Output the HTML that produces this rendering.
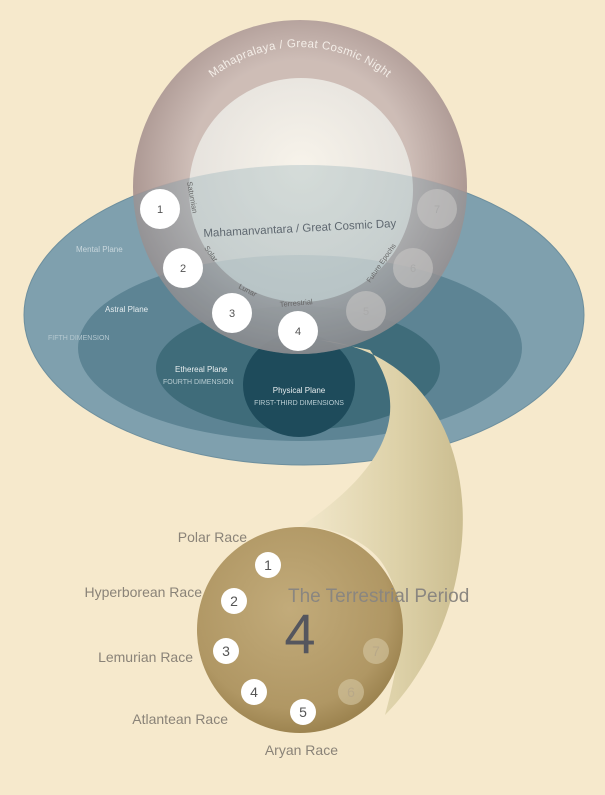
<!DOCTYPE html>
<html><head><style>
html,body{margin:0;padding:0;background:#f6e9cc;}
svg{display:block;font-family:"Liberation Sans",sans-serif;}
</style></head><body>
<svg width="605" height="795" viewBox="0 0 605 795" xmlns="http://www.w3.org/2000/svg">
<defs>
<radialGradient id="sph" cx="50%" cy="45%" r="55%">
<stop offset="0.6" stop-color="#c9b8b4"/><stop offset="1" stop-color="#9a8482"/>
</radialGradient>
<radialGradient id="inner" cx="50%" cy="40%" r="60%">
<stop offset="0" stop-color="#fbf8ef"/><stop offset="1" stop-color="#e4e2de"/>
</radialGradient>
<radialGradient id="bot" cx="45%" cy="40%" r="60%">
<stop offset="0" stop-color="#c2ab7a"/><stop offset="0.8" stop-color="#b09764"/><stop offset="1" stop-color="#9d8450"/>
</radialGradient>
<linearGradient id="rib" x1="0" y1="0" x2="1" y2="0">
<stop offset="0" stop-color="#f2e8cc"/><stop offset="0.6" stop-color="#ddd1a8"/><stop offset="1" stop-color="#cbbd90"/>
</linearGradient>
<path id="arcTop" d="M 160 187 A 140 140 0 0 1 440 187"/>
</defs>
<rect width="605" height="795" fill="#f6e9cc"/>
<!-- planes -->
<ellipse cx="304" cy="315" rx="280" ry="150" fill="#7fa0ae" stroke="#6d8f9e"/>
<ellipse cx="300" cy="348" rx="222" ry="93" fill="#5d8494"/>
<ellipse cx="298" cy="368" rx="142" ry="62" fill="#3f6c7a"/>
<ellipse cx="299" cy="385" rx="56" ry="52" fill="#1e4b5b"/>
<!-- ribbon -->
<path d="M 320 340 C 420 350 470 440 462 540 C 455 620 420 680 385 715 C 400 660 410 600 380 560 C 360 535 320 525 300 527 C 370 480 420 420 370 350 Z" fill="url(#rib)"/>
<!-- sphere -->
<circle cx="300" cy="187" r="167" fill="url(#sph)" opacity="0.9"/>
<circle cx="301" cy="190" r="112" fill="url(#inner)" opacity="0.92"/>
<clipPath id="sc"><circle cx="300" cy="187" r="167"/></clipPath>
<g clip-path="url(#sc)">
<ellipse cx="304" cy="315" rx="280" ry="150" fill="#7fa0ae" opacity="0.28"/>
<ellipse cx="300" cy="348" rx="222" ry="93" fill="#5d8494" opacity="0.12"/>
</g>
<!-- top texts -->
<text font-size="11.5" fill="#f4eee8" letter-spacing="0.4"><textPath href="#arcTop" startOffset="50%" text-anchor="middle">Mahapralaya / Great Cosmic Night</textPath></text>
<text x="300" y="232" font-size="11.5" fill="#5f6870" text-anchor="middle" transform="rotate(-3 300 232)">Mahamanvantara / Great Cosmic Day</text>
<text x="187" y="182" font-size="7.5" fill="#666" transform="rotate(80 187 182)">Saturnian</text>
<text x="204" y="248" font-size="7.5" fill="#666" transform="rotate(55 204 248)">Solar</text>
<text x="238" y="288" font-size="7.5" fill="#666" transform="rotate(28 238 288)">Lunar</text>
<text x="280" y="307" font-size="7.5" fill="#666" transform="rotate(-5 280 307)">Terrestrial</text>
<text x="370" y="283" font-size="7" fill="#666" transform="rotate(-55 370 283)">Future Epochs</text>
<text x="76" y="252" font-size="8" fill="#c8d6dc">Mental Plane</text>
<text x="105" y="312" font-size="8" fill="#e4ecef">Astral Plane</text>
<text x="48" y="340" font-size="7" fill="#b5c8d0">FIFTH DIMENSION</text>
<text x="175" y="372" font-size="8" fill="#e8eef0">Ethereal Plane</text>
<text x="163" y="384" font-size="7" fill="#b8ccd2">FOURTH DIMENSION</text>
<text x="299" y="393" font-size="8" fill="#e8eef0" text-anchor="middle">Physical Plane</text>
<text x="299" y="405" font-size="7" fill="#b8ccd2" text-anchor="middle">FIRST-THIRD DIMENSIONS</text>
<g font-size="11" fill="#555" text-anchor="middle">
<circle cx="160" cy="209" r="20" fill="#fff"/><text x="160" y="213">1</text>
<circle cx="183" cy="268" r="20" fill="#fff"/><text x="183" y="272">2</text>
<circle cx="232" cy="313" r="20" fill="#fff"/><text x="232" y="317">3</text>
<circle cx="298" cy="331" r="20" fill="#fff"/><text x="298" y="335">4</text>
</g>
<g font-size="11" fill="#aaa" text-anchor="middle">
<circle cx="366" cy="311" r="20" fill="#c8c6c4" opacity="0.6"/><text x="366" y="315">5</text>
<circle cx="413" cy="268" r="20" fill="#c8c6c4" opacity="0.6"/><text x="413" y="272">6</text>
<circle cx="437" cy="209" r="20" fill="#c8c6c4" opacity="0.6"/><text x="437" y="213">7</text>
</g>
<!-- bottom circle -->
<circle cx="300" cy="630" r="103" fill="url(#bot)"/>
<text x="300" y="653" font-size="56" fill="#55565e" text-anchor="middle">4</text>
<text x="288" y="602" font-size="19" fill="#8a8680">The Terrestrial Period</text>
<g font-size="14" fill="#555" text-anchor="middle">
<circle cx="268" cy="565" r="13" fill="#fff"/><text x="268" y="570">1</text>
<circle cx="234" cy="601" r="13" fill="#fff"/><text x="234" y="606">2</text>
<circle cx="226" cy="651" r="13" fill="#fff"/><text x="226" y="656">3</text>
<circle cx="254" cy="692" r="13" fill="#fff"/><text x="254" y="697">4</text>
<circle cx="303" cy="712" r="13" fill="#fff"/><text x="303" y="717">5</text>
</g>
<g font-size="14" fill="#b8a888" text-anchor="middle">
<circle cx="351" cy="692" r="13" fill="#d6c8a4" opacity="0.6"/><text x="351" y="697">6</text>
<circle cx="376" cy="651" r="13" fill="#d6c8a4" opacity="0.6"/><text x="376" y="656">7</text>
</g>
<g font-size="14" fill="#8a8378" text-anchor="end">
<text x="247" y="542">Polar Race</text>
<text x="202" y="597">Hyperborean Race</text>
<text x="193" y="662">Lemurian Race</text>
<text x="228" y="724">Atlantean Race</text>
<text x="338" y="755">Aryan Race</text>
</g>
</svg>
</body></html>
